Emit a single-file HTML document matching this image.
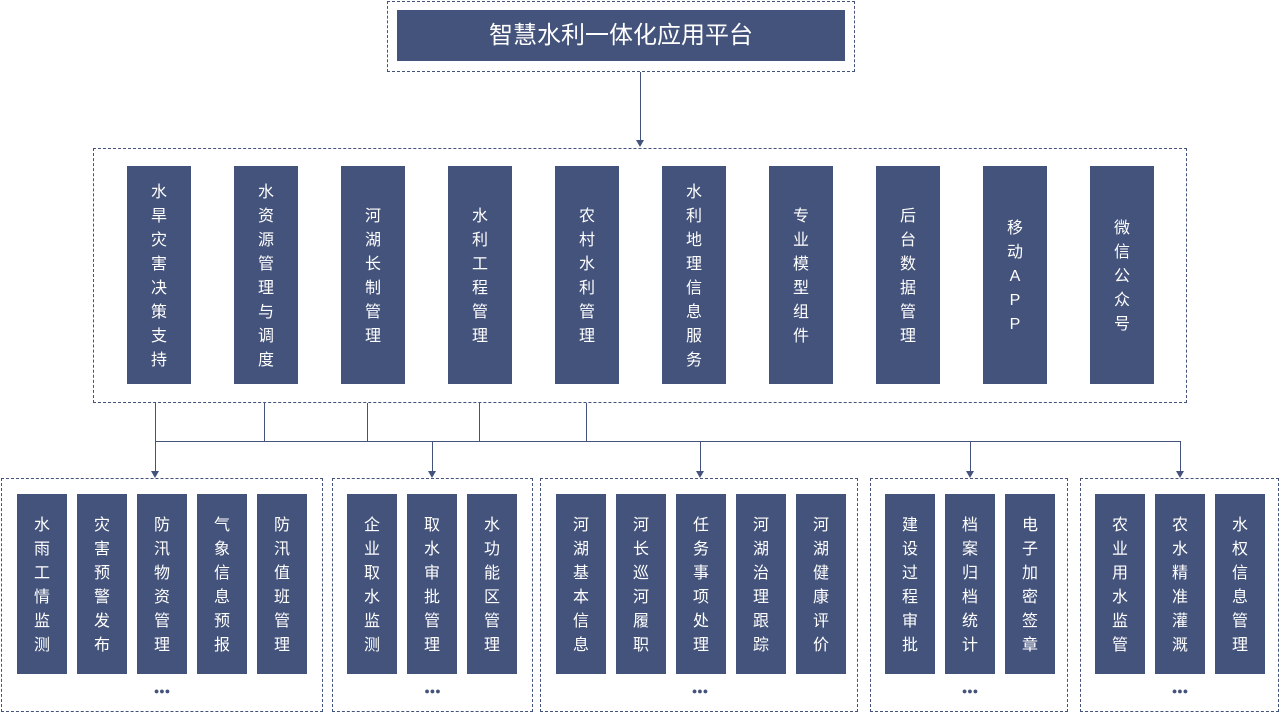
<!DOCTYPE html>
<html><head><meta charset="utf-8"><style>
body{margin:0;width:1280px;height:712px;background:#fff;position:relative;overflow:hidden;font-family:"Liberation Sans","Noto Sans CJK SC",sans-serif}
.d{position:absolute;border:1px dashed #44537b;box-sizing:border-box}
.b{position:absolute;background:#44537b;color:#fff;text-align:center;font-size:16px;line-height:24px;box-sizing:border-box}
.m{top:166px;width:64px;height:218px}
.s{top:494px;width:50px;height:180px;padding-top:20px}
.l{position:absolute;background:#44537b}
.dots{position:absolute;top:686px;font-size:9px;color:#44537b;text-align:center;letter-spacing:0px}
.ar{position:absolute;width:0;height:0;border-left:4px solid transparent;border-right:4px solid transparent;border-top:7px solid #44537b}
</style></head><body>
<div class="d" style="left:387px;top:1px;width:468px;height:71px"></div>
<div class="b" style="left:397px;top:10px;width:448px;height:51px;font-size:24px;line-height:51px">智慧水利一体化应用平台</div>
<div class="l" style="left:640px;top:72px;width:1px;height:70px"></div>
<div class="ar" style="left:636px;top:140px"></div>
<div class="d" style="left:93px;top:148px;width:1094px;height:255px"></div>

<div class="b m" style="left:127px;padding-top:15px">水<br>旱<br>灾<br>害<br>决<br>策<br>支<br>持</div>
<div class="b m" style="left:234px;padding-top:15px">水<br>资<br>源<br>管<br>理<br>与<br>调<br>度</div>
<div class="b m" style="left:341px;padding-top:39px">河<br>湖<br>长<br>制<br>管<br>理</div>
<div class="b m" style="left:448px;padding-top:39px">水<br>利<br>工<br>程<br>管<br>理</div>
<div class="b m" style="left:555px;padding-top:39px">农<br>村<br>水<br>利<br>管<br>理</div>
<div class="b m" style="left:662px;padding-top:15px">水<br>利<br>地<br>理<br>信<br>息<br>服<br>务</div>
<div class="b m" style="left:769px;padding-top:39px">专<br>业<br>模<br>型<br>组<br>件</div>
<div class="b m" style="left:876px;padding-top:39px">后<br>台<br>数<br>据<br>管<br>理</div>
<div class="b m" style="left:983px;padding-top:51px">移<br>动<br>A<br>P<br>P</div>
<div class="b m" style="left:1090px;padding-top:51px">微<br>信<br>公<br>众<br>号</div>

<div class="l" style="left:155px;top:403px;width:1px;height:39px"></div>
<div class="l" style="left:264px;top:403px;width:1px;height:39px"></div>
<div class="l" style="left:367px;top:403px;width:1px;height:39px"></div>
<div class="l" style="left:479px;top:403px;width:1px;height:39px"></div>
<div class="l" style="left:586px;top:403px;width:1px;height:39px"></div>
<div class="l" style="left:155px;top:441px;width:1026px;height:1px"></div>
<div class="l" style="left:155px;top:441px;width:1px;height:32px"></div><div class="ar" style="left:151px;top:471px"></div>
<div class="l" style="left:432px;top:441px;width:1px;height:32px"></div><div class="ar" style="left:428px;top:471px"></div>
<div class="l" style="left:700px;top:441px;width:1px;height:32px"></div><div class="ar" style="left:696px;top:471px"></div>
<div class="l" style="left:970px;top:441px;width:1px;height:32px"></div><div class="ar" style="left:966px;top:471px"></div>
<div class="l" style="left:1180px;top:441px;width:1px;height:32px"></div><div class="ar" style="left:1176px;top:471px"></div>

<div class="d" style="left:1px;top:478px;width:322px;height:234px"></div>
<div class="b s" style="left:17px">水<br>雨<br>工<br>情<br>监<br>测</div>
<div class="b s" style="left:77px">灾<br>害<br>预<br>警<br>发<br>布</div>
<div class="b s" style="left:137px">防<br>汛<br>物<br>资<br>管<br>理</div>
<div class="b s" style="left:197px">气<br>象<br>信<br>息<br>预<br>报</div>
<div class="b s" style="left:257px">防<br>汛<br>值<br>班<br>管<br>理</div>
<div class="dots" style="left:1px;width:322px">●●●</div>

<div class="d" style="left:332px;top:478px;width:201px;height:234px"></div>
<div class="b s" style="left:347px">企<br>业<br>取<br>水<br>监<br>测</div>
<div class="b s" style="left:407px">取<br>水<br>审<br>批<br>管<br>理</div>
<div class="b s" style="left:467px">水<br>功<br>能<br>区<br>管<br>理</div>
<div class="dots" style="left:332px;width:201px">●●●</div>

<div class="d" style="left:540px;top:478px;width:318px;height:234px"></div>
<div class="b s" style="left:556px">河<br>湖<br>基<br>本<br>信<br>息</div>
<div class="b s" style="left:616px">河<br>长<br>巡<br>河<br>履<br>职</div>
<div class="b s" style="left:676px">任<br>务<br>事<br>项<br>处<br>理</div>
<div class="b s" style="left:736px">河<br>湖<br>治<br>理<br>跟<br>踪</div>
<div class="b s" style="left:796px">河<br>湖<br>健<br>康<br>评<br>价</div>
<div class="dots" style="left:540px;width:320px">●●●</div>

<div class="d" style="left:870px;top:478px;width:198px;height:234px"></div>
<div class="b s" style="left:885px">建<br>设<br>过<br>程<br>审<br>批</div>
<div class="b s" style="left:945px">档<br>案<br>归<br>档<br>统<br>计</div>
<div class="b s" style="left:1005px">电<br>子<br>加<br>密<br>签<br>章</div>
<div class="dots" style="left:870px;width:200px">●●●</div>

<div class="d" style="left:1080px;top:478px;width:199px;height:234px"></div>
<div class="b s" style="left:1095px">农<br>业<br>用<br>水<br>监<br>管</div>
<div class="b s" style="left:1155px">农<br>水<br>精<br>准<br>灌<br>溉</div>
<div class="b s" style="left:1215px">水<br>权<br>信<br>息<br>管<br>理</div>
<div class="dots" style="left:1080px;width:200px">●●●</div>
</body></html>
